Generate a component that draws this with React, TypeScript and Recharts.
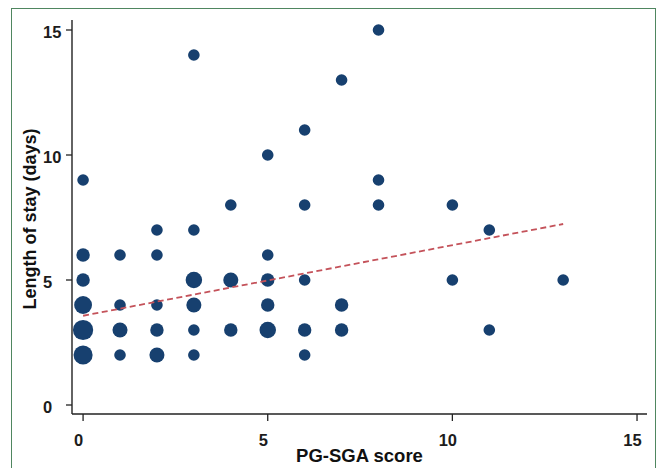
import { ScatterChart, Scatter, XAxis, YAxis, ZAxis } from 'recharts';

// PG-SGA score vs length of stay, marker area grows with number of patients
const scoreX = [0, 0, 0, 0, 0, 0, 1, 1, 1, 1, 2, 2, 2, 2, 2, 3, 3, 3, 3, 3, 3, 4, 4, 4, 5, 5, 5, 5, 5, 6, 6, 6, 6, 6, 7, 7, 7, 8, 8, 8, 10, 10, 11, 11, 13];
const stayY = [9, 6, 5, 4, 3, 2, 6, 4, 3, 2, 7, 6, 4, 3, 2, 14, 7, 5, 4, 3, 2, 8, 5, 3, 10, 6, 5, 4, 3, 11, 8, 5, 3, 2, 13, 4, 3, 15, 9, 8, 8, 5, 7, 3, 5];
const counts = [1, 2, 2, 5, 7, 6, 1, 1, 3, 1, 1, 1, 1, 2, 3, 1, 1, 4, 3, 1, 1, 1, 3, 2, 1, 1, 2, 2, 4, 1, 1, 1, 2, 1, 1, 2, 2, 1, 1, 1, 1, 1, 1, 1, 1];

// fitted line ends (linear fit)
const fitX = [0, 13];
const fitY = [3.57, 7.24];

const xTicks = [0, 5, 10, 15];
const yTicks = [0, 5, 10, 15];

const points = scoreX.map((x, i) => ({ x, y: stayY[i], n: counts[i] }));
const fitLine = fitX.map((x, i) => ({ x, y: fitY[i] }));

const FONT = '"Liberation Sans", Arial, sans-serif';

const XTick = (props: any) => (
  <text x={props.x - 4.5} y={props.y + 17} dy="0.36em" textAnchor="middle" fontFamily={FONT} fontSize={16.5} fontWeight="bold" fill="#1c1c1c">
    {props.payload.value}
  </text>
);

const YTick = (props: any) => (
  <text x={43} y={props.y + 2} dy="0.36em" textAnchor="start" fontFamily={FONT} fontSize={16.5} fontWeight="bold" fill="#1c1c1c">
    {props.payload.value}
  </text>
);

const YTitle = (props: any) => {
  const vb = props.viewBox;
  const cx = 30;
  const cy = vb.y + vb.height / 2 + 2;
  return (
    <text x={cx} y={cy} transform={`rotate(-90, ${cx}, ${cy})`} textAnchor="middle" dominantBaseline="central" fontFamily={FONT} fontSize={18} fontWeight="bold" fill="#111">
      Length of stay (days)
    </text>
  );
};

const XTitle = (props: any) => {
  const vb = props.viewBox;
  return (
    <text x={vb.x + vb.width / 2} y={455} textAnchor="middle" dominantBaseline="central" fontFamily={FONT} fontSize={18.5} fontWeight="bold" fill="#111">
      PG-SGA score
    </text>
  );
};

export default function App() {
  return (
    <div style={{ position: 'absolute', left: 0, top: 0, width: 658, height: 468, background: '#fff', overflow: 'hidden' }}>
      <div style={{ position: 'absolute', left: 11, top: 8, width: 645, height: 480, border: '1px solid #4f8660', boxSizing: 'border-box' }} />
      <div style={{ position: 'absolute', left: 0, top: 0 }}>
        <ScatterChart width={658} height={468} margin={{ top: 20, right: 11, bottom: 0, left: 0 }}>
          <XAxis
            type="number"
            dataKey="x"
            domain={[-0.3, 15.27]}
            ticks={xTicks}
            allowDataOverflow
            height={54}
            tickSize={7}
            axisLine={{ stroke: '#222', strokeWidth: 1.4 }}
            tickLine={{ stroke: '#222', strokeWidth: 1.3 }}
            tick={XTick}
            label={<XTitle />}
          />
          <YAxis
            type="number"
            dataKey="y"
            domain={[-0.36, 15.4]}
            ticks={yTicks}
            allowDataOverflow
            width={72}
            tickSize={6}
            axisLine={{ stroke: '#222', strokeWidth: 1.4 }}
            tickLine={{ stroke: '#222', strokeWidth: 1.3 }}
            tick={YTick}
            label={<YTitle />}
          />
          <ZAxis type="number" dataKey="n" domain={[1, 7]} range={[106, 322]} />
          <Scatter data={points} fill="#17406f" isAnimationActive={false} />
          <Scatter
            data={fitLine}
            line={{ stroke: '#c4525a', strokeWidth: 1.8, strokeDasharray: '6 3.5' }}
            shape={() => <g />}
            isAnimationActive={false}
          />
        </ScatterChart>
      </div>
    </div>
  );
}
